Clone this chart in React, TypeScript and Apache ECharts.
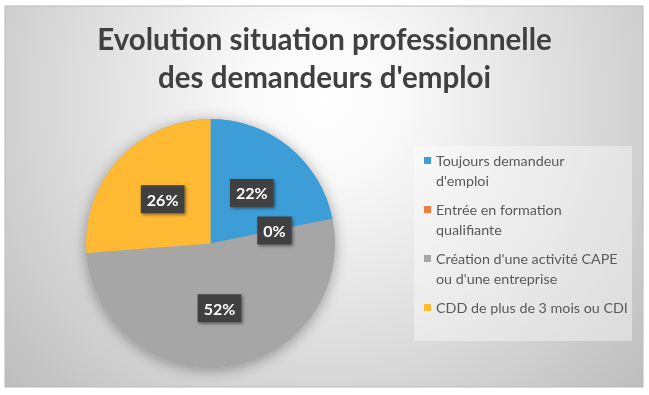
import React, { useEffect, useRef } from "react";
import * as echarts from "echarts";

const titleLines = ["Evolution situation professionnelle", "des demandeurs d'emploi"];
const categories = [
  "Toujours demandeur d'emploi",
  "Entrée en formation qualifiante",
  "Création d'une activité CAPE ou d'une entreprise",
  "CDD de plus de 3 mois ou CDI",
];
const legendLines = [
  ["Toujours demandeur", "d'emploi"],
  ["Entrée en formation", "qualifiante"],
  ["Création d'une activité CAPE", "ou d'une entreprise"],
  ["CDD de plus de 3 mois ou CDI"],
];
const values = [21.8, 0, 52.0, 26.2];
const colors = ["#3d9dd6", "#f07b3f", "#a6a6a6", "#ffb933"];

const FONT = "Lato";

export default function App() {
  const ref = useRef<HTMLDivElement>(null);
  useEffect(() => {
    if (!ref.current) return;
    const chart = echarts.init(ref.current, null, { renderer: "svg" });
    const total = values.reduce((a, b) => a + b, 0);
    const center = [210.5, 243.5];
    const radius = 124.5;
    chart.setOption({
      animation: false,
      graphic: [
        {
          type: "rect",
          z: -10,
          shape: { x: 5, y: 6, width: 638, height: 381 },
          style: {
            fill: new echarts.graphic.RadialGradient(
              324,
              100,
              430,
              [
                { offset: 0, color: "#ffffff" },
                { offset: 0.2, color: "#f8f8f8" },
                { offset: 0.67, color: "#d6d6d6" },
                { offset: 1, color: "#bdbdbd" },
              ],
              true
            ),
            stroke: "#b9b9b9",
            lineWidth: 1,
          },
        },
        {
          type: "rect",
          z: -5,
          shape: { x: 414, y: 146, width: 218, height: 195 },
          style: { fill: "rgba(255,255,255,0.4)" },
        },
      ],
      title: {
        text: titleLines.join("\n"),
        left: "center",
        top: 14,
        textStyle: {
          fontFamily: FONT,
          fontWeight: "bold",
          fontSize: 29.5,
          lineHeight: 38.5,
          color: "#404040",
        },
      },
      legend: {
        orient: "vertical",
        left: 424,
        top: 131.25,
        padding: 0,
        itemWidth: 7,
        itemHeight: 7,
        itemGap: -9.5,
        icon: "rect",
        selectedMode: false,
        data: categories,
        formatter: (name: string) => {
          const lines = legendLines[categories.indexOf(name)];
          return lines.length > 1 ? "\n" + lines.join("\n") : "\n" + lines[0] + "\n";
        },
        textStyle: {
          fontFamily: FONT,
          fontSize: 14.3,
          lineHeight: 19.5,
          color: "#595959",
        },
      },
      series: [
        {
          type: "pie",
          name: "ombre",
          center,
          radius,
          silent: true,
          legendHoverLink: false,
          label: { show: false },
          labelLine: { show: false },
          itemStyle: {
            color: "#a6a6a6",
            borderWidth: 0,
            shadowBlur: 14,
            shadowColor: "rgba(0,0,0,0.35)",
            shadowOffsetY: 2,
          },
          data: [{ name: "ombre", value: total }],
        },
        {
          type: "pie",
          center,
          radius,
          startAngle: 90,
          clockwise: true,
          percentPrecision: 0,
          silent: true,
          itemStyle: { borderWidth: 0 },
          labelLine: { show: false },
          label: {
            show: true,
            position: "inside",
            rotate: 0,
            formatter: "{d}%",
            fontFamily: FONT,
            fontWeight: "bold",
            fontSize: 16,
            lineHeight: 19,
            color: "#ffffff",
            backgroundColor: "#404040",
            padding: [5, 6, 4, 6],
            shadowColor: "rgba(0,0,0,0.45)",
            shadowBlur: 3,
            shadowOffsetX: 1.5,
            shadowOffsetY: 1.5,
          },
          data: categories.map((n, i) => ({
            name: n,
            value: values[i],
            itemStyle: { color: colors[i] },
          })),
        },
      ],
    });
    return () => chart.dispose();
  }, []);
  return (
    <div
      ref={ref}
      style={{ position: "fixed", left: 0, top: 0, width: 649, height: 395 }}
    />
  );
}
